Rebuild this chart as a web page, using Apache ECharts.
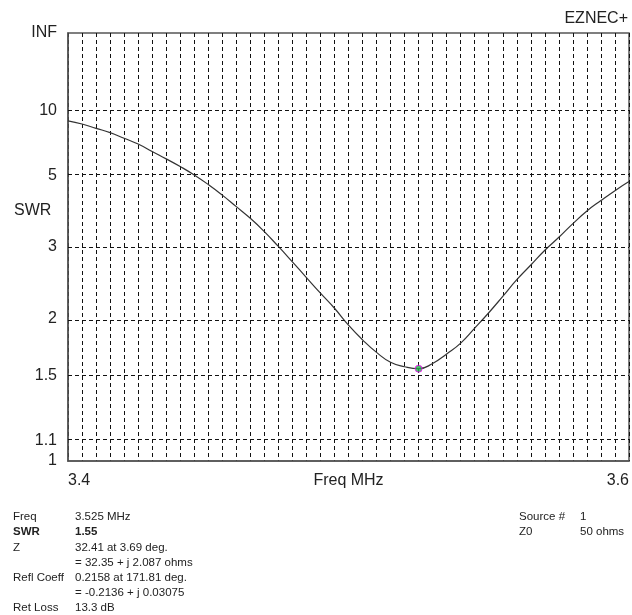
<!DOCTYPE html>
<html>
<head>
<meta charset="utf-8">
<script src="https://cdn.jsdelivr.net/npm/echarts@6/dist/echarts.min.js"></script>
<style>
html,body{margin:0;padding:0;background:#fff;}
#c{width:632px;height:615px;}
</style>
</head>
<body>
<div id="c"></div>
<script>
// Frequencies (MHz) and SWR values
var freqs = [3.400,3.405,3.410,3.415,3.420,3.425,3.430,3.435,3.440,3.445,
             3.450,3.455,3.460,3.465,3.470,3.475,3.480,3.485,3.490,3.495,
             3.500,3.505,3.510,3.515,3.520,3.525,3.530,3.535,3.540,3.545,
             3.550,3.555,3.560,3.565,3.570,3.575,3.580,3.585,3.590,3.595,3.600];
var swr = [8.75,8.41,7.98,7.59,7.13,6.71,6.22,5.80,5.41,5.03,
           4.65,4.28,3.93,3.62,3.31,3.01,2.74,2.50,2.29,2.11,
           1.93,1.79,1.68,1.60,1.565,1.55,1.59,1.667,1.76,1.90,
           2.06,2.25,2.47,2.69,2.94,3.19,3.49,3.81,4.11,4.43,4.76];
// Marker
var markerFreq = 3.525;
var markerSwr = 1.55;
// Y axis tick labels (SWR) and grid lines
var yLabelValues = [1, 1.1, 1.5, 2, 3, 5, 10, Infinity];
var yLabelTexts = ['1', '1.1', '1.5', '2', '3', '5', '10', 'INF'];
var yGridValues = [1.1, 1.5, 2, 3, 5, 10];
var xLabelValues = [3.4, 3.6];
// Info block
var infoLabels = ['Freq', 'SWR', 'Z', '', 'Refl Coeff', '', 'Ret Loss'];
var infoValues = ['3.525 MHz', '1.55', '32.41 at 3.69 deg.', '= 32.35 + j 2.087 ohms',
                  '0.2158 at 171.81 deg.', '= -0.2136 + j 0.03075', '13.3 dB'];
var srcLabels = ['Source #', 'Z0'];
var srcValues = ['1', '50 ohms'];

function rho(s) { return s === Infinity ? 1 : (s - 1) / (s + 1); }

var lineData = freqs.map(function (f, i) { return [f, rho(swr[i])]; });
var yLabelRho = yLabelValues.map(rho);

var FONT = '"Liberation Sans", Arial, sans-serif';
var graphics = [
  { type: 'text', right: 4, top: 11, style: { text: 'EZNEC+', font: '16px ' + FONT, fill: '#222' } },
  { type: 'text', left: 14, top: 203, style: { text: 'SWR', font: '16px ' + FONT, fill: '#222' } }
];
infoLabels.forEach(function (t, i) {
  var bold = i === 1 ? 'bold ' : '';
  if (t) graphics.push({ type: 'text', left: 13, top: 511 + i * 15.2,
    style: { text: t, font: bold + '11.5px ' + FONT, fill: '#222' } });
  graphics.push({ type: 'text', left: 75, top: 511 + i * 15.2,
    style: { text: infoValues[i], font: bold + '11.5px ' + FONT, fill: '#222' } });
});
srcLabels.forEach(function (t, i) {
  graphics.push({ type: 'text', left: 519, top: 511 + i * 15.2,
    style: { text: t, font: '11.5px ' + FONT, fill: '#222' } });
  graphics.push({ type: 'text', left: 580, top: 511 + i * 15.2,
    style: { text: srcValues[i], font: '11.5px ' + FONT, fill: '#222' } });
});

var chart = echarts.init(document.getElementById('c'), null, { renderer: 'canvas' });
chart.setOption({
  animation: false,
  backgroundColor: '#fff',
  textStyle: { fontFamily: FONT },
  grid: { left: 68, top: 33, width: 561, height: 428, show: true, borderColor: '#555', borderWidth: 1.5, backgroundColor: 'transparent' },
  xAxis: {
    type: 'value', min: 3.4, max: 3.6, interval: 0.005,
    axisLine: { show: true, lineStyle: { color: '#555', width: 1.5 } },
    axisTick: { show: false },
    splitLine: { show: true, lineStyle: { color: '#111', width: 1, type: [4, 3] } },
    axisLabel: {
      customValues: xLabelValues, margin: 12, fontSize: 16, color: '#222', fontFamily: FONT,
      alignMinLabel: 'left', alignMaxLabel: 'right',
      formatter: function (v) { return v.toFixed(1); }
    },
    name: 'Freq MHz', nameLocation: 'middle', nameGap: 12, nameMoveOverlap: false,
    nameTextStyle: { fontSize: 16, color: '#222', fontFamily: FONT, verticalAlign: 'top' }
  },
  yAxis: {
    type: 'value', min: 0, max: 1,
    axisLine: { show: true, lineStyle: { color: '#555', width: 1.5 } },
    axisTick: { show: false },
    splitLine: { show: false },
    axisLabel: {
      customValues: yLabelRho, margin: 11, fontSize: 16, color: '#222', fontFamily: FONT,
      formatter: function (v) {
        var best = 0, d = 1e9;
        yLabelRho.forEach(function (r, i) { if (Math.abs(r - v) < d) { d = Math.abs(r - v); best = i; } });
        return yLabelTexts[best];
      }
    }
  },
  graphic: graphics,
  series: [
    {
      type: 'line', data: lineData, smooth: 0.5, showSymbol: false, silent: true,
      lineStyle: { color: '#333', width: 1.2 },
      markLine: {
        silent: true, symbol: 'none', label: { show: false },
        lineStyle: { color: '#111', width: 1, type: [4, 3] },
        data: yGridValues.map(function (s) { return { yAxis: rho(s) }; })
      },
      z: 3
    },
    {
      type: 'scatter', data: [[markerFreq, rho(markerSwr)]], symbol: 'circle', symbolSize: 7,
      itemStyle: { color: '#22b14c', borderColor: '#ff00ff', borderWidth: 1 }, silent: true, z: 4
    }
  ]
});
</script>
</body>
</html>
